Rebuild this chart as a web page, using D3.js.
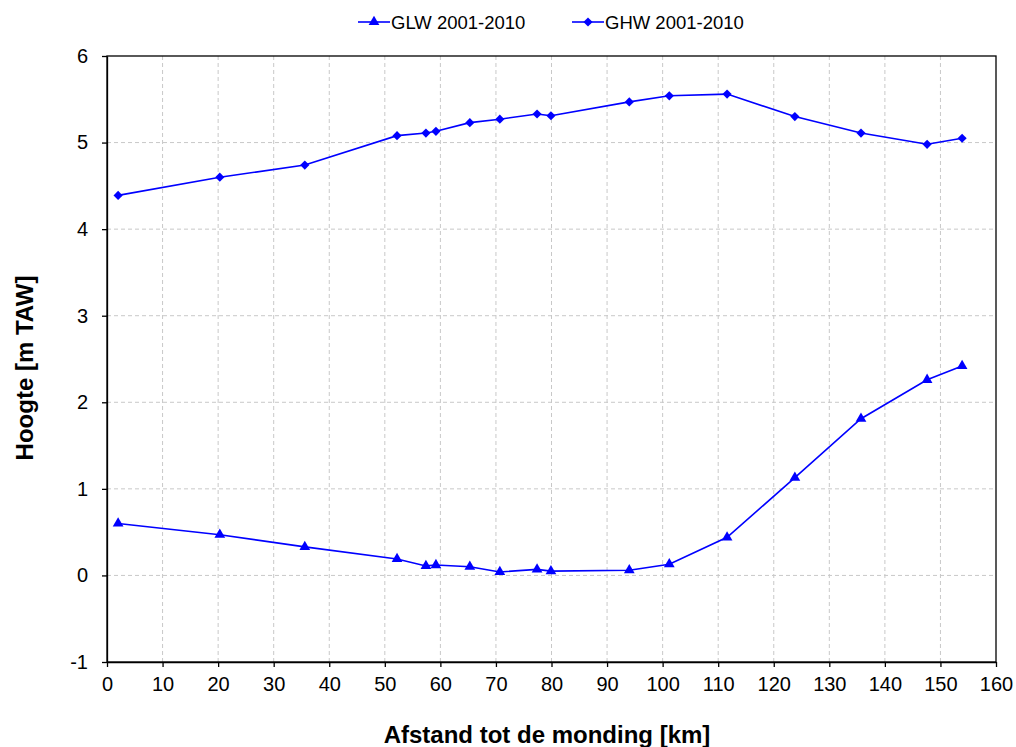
<!DOCTYPE html>
<html><head><meta charset="utf-8">
<script src="https://cdn.jsdelivr.net/npm/d3@7"></script>
<style>body{margin:0;background:#fff;font-family:"Liberation Sans",Arial,sans-serif}</style>
</head><body><svg id="c" width="1016" height="747"></svg>
<script>
const distKm = [2.0,20.3,35.6,52.2,57.4,59.2,65.3,70.7,77.4,79.9,94.0,101.2,111.6,123.8,135.7,147.6,153.9];
const glw = [0.60,0.47,0.33,0.19,0.11,0.12,0.10,0.04,0.07,0.05,0.06,0.13,0.44,1.13,1.81,2.26,2.42];
const ghw = [4.39,4.60,4.74,5.08,5.11,5.13,5.23,5.27,5.33,5.31,5.47,5.54,5.56,5.30,5.11,4.98,5.05];
const xTicks = d3.range(0,161,10);
const yTicks = [-1,0,1,2,3,4,5,6];
const seriesNames = ["GLW 2001-2010","GHW 2001-2010"];

const svg = d3.select("#c");
const L=107,R=996,T=56,B=662;
const x = d3.scaleLinear().domain([0,160]).range([L,R]);
const y = d3.scaleLinear().domain([-1,6]).range([B,T]);
const blue="#0000FF";
const fmt = d=>String(d);

// grid
svg.append("g").selectAll("line").data(xTicks.slice(1,-1)).join("line")
 .attr("x1",d=>x(d)).attr("x2",d=>x(d)).attr("y1",T).attr("y2",B)
 .attr("stroke","#c8c8c8").attr("stroke-dasharray","4,3");
svg.append("g").selectAll("line").data(yTicks.slice(1,-1)).join("line")
 .attr("y1",d=>y(d)).attr("y2",d=>y(d)).attr("x1",L).attr("x2",R)
 .attr("stroke","#c8c8c8").attr("stroke-dasharray","4,3");

// axes
const xa = svg.append("g").attr("transform",`translate(0,${B})`)
 .call(d3.axisBottom(x).tickValues(xTicks).tickFormat(fmt).tickSize(5).tickPadding(10).tickSizeOuter(0));
const ya = svg.append("g").attr("transform",`translate(${L},0)`)
 .call(d3.axisLeft(y).tickValues(yTicks).tickFormat(fmt).tickSize(5).tickPadding(14).tickSizeOuter(0));
[xa,ya].forEach(a=>{a.attr("font-size",20).attr("font-family","Liberation Sans, Arial");
 a.selectAll("text").attr("fill","#000");
 a.selectAll("line,path").attr("stroke","#000").attr("stroke-width",1.3);});
// frame
svg.append("rect").attr("x",L).attr("y",T).attr("width",R-L).attr("height",B-T)
 .attr("fill","none").attr("stroke","#000").attr("stroke-width",1.3);

const line = d3.line().x((d,i)=>x(distKm[i])).y(d=>y(d));
const tri = d3.symbol().type(d3.symbolTriangle).size(50);
const dia = d3.symbol().type(d3.symbolSquare).size(42);

function drawSeries(vals, sym, rot){
  svg.append("path").datum(vals).attr("d",line).attr("fill","none").attr("stroke",blue).attr("stroke-width",1.6);
  svg.append("g").selectAll("path").data(vals).join("path")
   .attr("d",sym).attr("fill",blue)
   .attr("transform",(d,i)=>`translate(${x(distKm[i])},${y(d)}) rotate(${rot})`);
}
drawSeries(glw, tri, 0);
drawSeries(ghw, dia, 45);

// legend
const leg = [{name:seriesNames[0],x0:358,sym:tri,rot:0},{name:seriesNames[1],x0:572,sym:dia,rot:45}];
leg.forEach(l=>{
  svg.append("line").attr("x1",l.x0).attr("x2",l.x0+32).attr("y1",22).attr("y2",22).attr("stroke",blue).attr("stroke-width",1.6);
  svg.append("path").attr("d",l.sym).attr("fill",blue).attr("transform",`translate(${l.x0+16},22) rotate(${l.rot})`);
  svg.append("text").attr("x",l.x0+33).attr("y",29).attr("font-size",18.5).attr("fill","#000").text(l.name);
});

svg.append("text").attr("x",547).attr("y",743).attr("text-anchor","middle")
 .attr("font-size",24).attr("font-weight","bold").text("Afstand tot de monding [km]");
svg.append("text").attr("transform",`translate(33,368) rotate(-90)`).attr("text-anchor","middle")
 .attr("font-size",24).attr("font-weight","bold").text("Hoogte [m TAW]");
</script></body></html>
